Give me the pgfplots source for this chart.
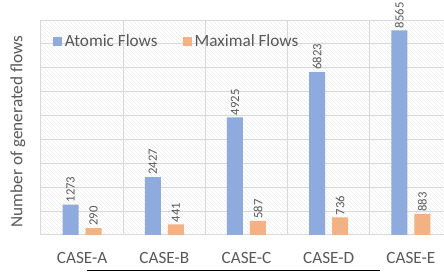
\documentclass[border=0pt]{standalone}
\usepackage{pgfplots}
\pgfplotsset{compat=1.18}
\usepackage{fontspec}
\setmainfont{Carlito}
\usetikzlibrary{patterns}
\definecolor{txt}{HTML}{595959}
\definecolor{grd}{HTML}{D9D9D9}
\definecolor{blu}{HTML}{8FAADC}
\definecolor{org}{HTML}{F4B183}
\begin{document}
\begin{tikzpicture}
\begin{axis}[
  at={(30.75pt,27.75pt)}, anchor=south west,
  scale only axis, width=308.25pt, height=161.25pt,
  xmin=-0.5, xmax=4.5, ymin=0, ymax=9000,
  ybar=5.25pt, bar width=12pt,
  xtick={0,...,4}, xticklabels={CASE-A,CASE-B,CASE-C,CASE-D,CASE-E},
  minor xtick={-0.5,0.5,1.5,2.5,3.5,4.5},
  xminorgrids, xmajorgrids=false, ymajorgrids,
  ytick={0,1000,...,9000}, yticklabels={},
  grid style={grd, line width=0.75pt},
  minor grid style={grd, line width=0.75pt},
  axis line style={draw=none},
  major tick style={draw=none}, minor tick style={draw=none},
  axis background/.style={pattern=north west lines, pattern color=black!7},
  xticklabel style={font=\fontsize{12.9}{15}\selectfont, text=txt, anchor=center, yshift=-13pt},
  ylabel={Number of generated flows},
  ylabel style={at={(rel axis cs:0,0.481)}, anchor=center, yshift=17.25pt, font=\fontsize{12.9}{15}\selectfont, text=txt},
  /pgf/number format/assume math mode=true,
  /pgf/number format/1000 sep={},
  nodes near coords,
  every node near coord/.append style={rotate=90, anchor=west, font=\fontsize{9.5}{10}\selectfont, text=txt, inner sep=1.5pt},
  legend columns=2, legend cell align=left,
  legend style={at={(rel axis cs:0.029,0.902)}, anchor=west, draw=none, fill=none,
    font=\fontsize{12.9}{15}\selectfont, text=txt, inner sep=0pt,
    /tikz/every even column/.append style={column sep=17pt}},
]
\addplot[fill=blu, draw=none, legend image code/.code={\fill[blu] (0pt,-3.4pt) rectangle (6.75pt,3.4pt);}]
  coordinates {(0,1273) (1,2427) (2,4925) (3,6823) (4,8565)};
\addplot[fill=org, draw=none, legend image code/.code={\fill[org] (0pt,-3.4pt) rectangle (6.75pt,3.4pt);}]
  coordinates {(0,290) (1,441) (2,587) (3,736) (4,883)};
\legend{Atomic Flows, Maximal Flows}
\end{axis}
\draw[line width=0.75pt] (65pt,1pt) -- (285pt,1pt);
\pgfresetboundingbox
\useasboundingbox (0,0) rectangle (333pt,204pt);
\end{tikzpicture}
\end{document}
